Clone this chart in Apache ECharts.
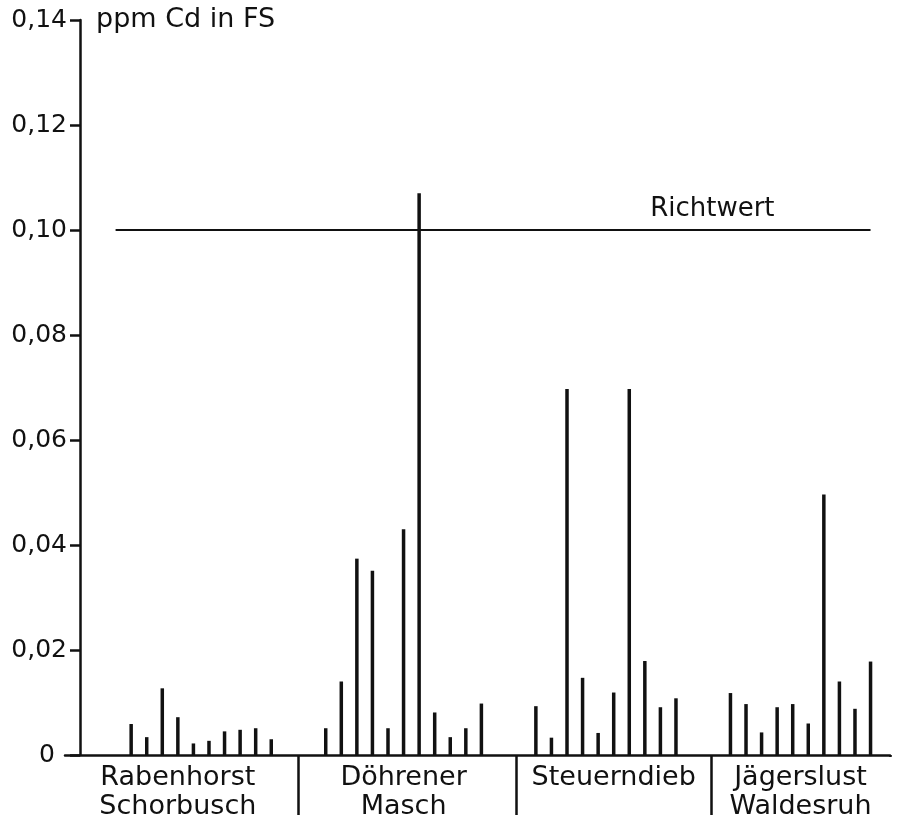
<!DOCTYPE html>
<html>
<head>
<meta charset="utf-8">
<script src="https://cdn.jsdelivr.net/npm/echarts@6/dist/echarts.min.js"></script>
<style>
  html, body { margin: 0; padding: 0; background: #fff; }
  #container { width: 898px; height: 821px; }
</style>
</head>
<body>
<div id="container"></div>
<script>
// ppm Cd in FS, one value per sample
var groupNames = ['Rabenhorst\nSchorbusch', 'Döhrener\nMasch', 'Steuerndieb', 'Jägerslust\nWaldesruh'];
var rabenhorst = [0.0059, 0.0034, 0.0127, 0.0072, 0.0022, 0.0027, 0.0045, 0.0048, 0.0051, 0.0030];
var doehren = [0.0051, 0.0140, 0.0374, 0.0351, 0.0051, 0.0430, 0.1070, 0.0081, 0.0034, 0.0051, 0.0098];
var steuerndieb = [0.0093, 0.0033, 0.0697, 0.0147, 0.0042, 0.0119, 0.0697, 0.0179, 0.0091, 0.0108];
var jaegerslust = [0.0118, 0.0097, 0.0043, 0.0091, 0.0097, 0.0060, 0.0496, 0.0140, 0.0088, 0.0178];
var richtwert = 0.10;

var groups = [rabenhorst, doehren, steuerndieb, jaegerslust];

// half-slot category layout: leading blanks, bars every 2nd slot, gaps between sites
var lead = 8, gap = 7, trail = 2;
var cats = [], vals = [];
var sepAt = {}, labelAt = {};
var idx = 0;
function pushSlot(v) { cats.push('s' + idx); vals.push(v); idx++; }
for (var i = 0; i < lead; i++) pushSlot('-');
groups.forEach(function (g, gi) {
  if (gi > 0) for (var k = 0; k < gap - 1; k++) pushSlot('-');
  g.forEach(function (v, j) {
    if (j > 0) pushSlot('-');
    pushSlot(v);
  });
});
for (var i = 0; i < trail; i++) pushSlot('-');

// separators and group label slots
sepAt[30] = true; sepAt[58] = true; sepAt[83] = true;
labelAt[14] = groupNames[0];
labelAt[43] = groupNames[1];
labelAt[70] = groupNames[2];
labelAt[94] = groupNames[3];

var font = 'DejaVu Sans';
var ink = '#111';

var chart = echarts.init(document.getElementById('container'), null, {renderer: 'canvas'});
chart.setOption({
  backgroundColor: '#fff',
  animation: false,
  grid: {left: 65, right: 8, top: 20, bottom: 66},
  // hide the closing band tick echarts always adds at the right end of the axis
  graphic: [{
    type: 'rect', z: 100, silent: true,
    shape: {x: 887, y: 757, width: 11, height: 64},
    style: {fill: '#fff'}
  }],
  xAxis: {
    type: 'category',
    data: cats,
    boundaryGap: true,
    axisLine: {lineStyle: {color: ink, width: 2.5}},
    axisTick: {
      show: true,
      length: 60,
      alignWithLabel: false,
      interval: function (index) { return !!sepAt[index]; },
      lineStyle: {color: ink, width: 2.5}
    },
    axisLabel: {
      interval: function (index) { return !!labelAt[index]; },
      formatter: function (v, index) { return labelAt[index] || ''; },
      fontFamily: font,
      fontSize: 27,
      lineHeight: 29,
      color: ink,
      margin: 8,
      align: 'center'
    },
    splitLine: {show: false}
  },
  yAxis: {
    type: 'value',
    min: 0,
    max: 0.14,
    interval: 0.02,
    offset: -15,
    name: 'ppm Cd in FS',
    nameLocation: 'end',
    nameGap: 0,
    nameTextStyle: {
      fontFamily: font, fontSize: 27, color: ink,
      align: 'left', verticalAlign: 'middle', padding: [0, 0, 0, 16]
    },
    axisLine: {show: true, lineStyle: {color: ink, width: 2.5}},
    axisTick: {show: true, length: 10, lineStyle: {color: ink, width: 2.5}},
    axisLabel: {
      fontFamily: font, fontSize: 25, color: ink, margin: 13,
      formatter: function (v) {
        if (v === 0) return '{z|0}';
        return v.toFixed(2).replace('.', ',');
      },
      rich: {
        z: {fontFamily: font, fontSize: 25, color: ink, padding: [0, 12, 0, 0]}
      }
    },
    splitLine: {show: false}
  },
  series: [{
    type: 'bar',
    data: vals,
    barWidth: 3.5,
    itemStyle: {color: ink},
    markLine: {
      silent: true,
      symbol: 'none',
      lineStyle: {color: ink, width: 2, type: 'solid'},
      label: {
        show: true,
        position: 'insideEndTop',
        formatter: 'Richtwert',
        fontFamily: font,
        fontSize: 26,
        color: ink,
        distance: [96, 8]
      },
      data: [[{xAxis: 6, yAxis: richtwert}, {xAxis: 103, yAxis: richtwert}]]
    }
  }]
});
</script>
</body>
</html>
